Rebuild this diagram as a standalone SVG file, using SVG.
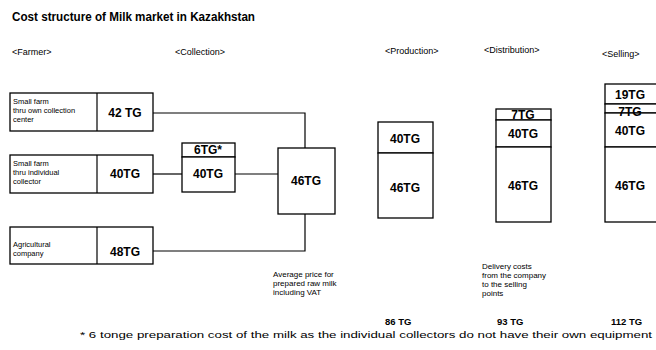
<svg xmlns="http://www.w3.org/2000/svg" width="656" height="350" viewBox="0 0 656 350">
  <style>
    .box { fill: #fff; stroke: #000; stroke-width: 1.3; }
    .wire { fill: none; stroke: #000; stroke-width: 1.2; }
    .val { font-family: "Liberation Sans", Arial, sans-serif; font-size: 12px; font-weight: bold; text-anchor: middle; fill: #000; }
    .sm { font-family: "Liberation Sans", Arial, sans-serif; font-size: 7.5px; fill: #000; }
    .hd { font-family: "Liberation Sans", Arial, sans-serif; font-size: 9px; fill: #000; }
    .note { font-family: "Liberation Sans", Arial, sans-serif; font-size: 8px; fill: #000; }
    .tot { font-family: "Liberation Sans", Arial, sans-serif; font-size: 9.5px; font-weight: bold; fill: #000; }
  </style>
  <rect width="656" height="350" fill="#fff"/>

  <text x="12" y="21" font-family="Liberation Sans, Arial, sans-serif" font-size="12.5" font-weight="bold" textLength="243" lengthAdjust="spacingAndGlyphs">Cost structure of Milk market in Kazakhstan</text>

  <!-- stage headers -->
  <g id="headers">
    <text class="hd" x="12" y="55">&lt;Farmer&gt;</text>
    <text class="hd" x="175" y="55">&lt;Collection&gt;</text>
    <text class="hd" x="385" y="54">&lt;Production&gt;</text>
    <text class="hd" x="484" y="53">&lt;Distribution&gt;</text>
    <text class="hd" x="602" y="57">&lt;Selling&gt;</text>
  </g>

  <!-- connectors -->
  <g id="connectors">
    <polyline class="wire" points="153,113 305,113 305,148"/>
    <line class="wire" x1="153" y1="174" x2="182" y2="174"/>
    <line class="wire" x1="235" y1="174" x2="278" y2="174"/>
    <polyline class="wire" points="153,251 305,251 305,214"/>
  </g>

  <!-- farmer nodes -->
  <g id="farm-own-center">
    <rect class="box" x="10" y="93" width="143" height="38"/>
    <line class="wire" x1="97" y1="93" x2="97" y2="131"/>
    <text class="sm" x="13" y="104">Small farm</text>
    <text class="sm" x="13" y="113">thru own collection</text>
    <text class="sm" x="13" y="122">center</text>
    <text class="val" x="125" y="117">42 TG</text>
  </g>
  <g id="farm-individual">
    <rect class="box" x="10" y="155" width="143" height="38"/>
    <line class="wire" x1="97" y1="155" x2="97" y2="193"/>
    <text class="sm" x="13" y="166">Small farm</text>
    <text class="sm" x="13" y="175">thru individual</text>
    <text class="sm" x="13" y="184">collector</text>
    <text class="val" x="125" y="178">40TG</text>
  </g>
  <g id="agri-company">
    <rect class="box" x="10" y="227" width="143" height="37"/>
    <line class="wire" x1="97" y1="227" x2="97" y2="264"/>
    <text class="sm" x="13" y="247">Agricultural</text>
    <text class="sm" x="13" y="256">company</text>
    <text class="val" x="125" y="256">48TG</text>
  </g>

  <!-- collection nodes -->
  <g id="collector">
    <rect class="box" x="182" y="143" width="53" height="14"/>
    <rect class="box" x="182" y="157" width="53" height="35"/>
    <text class="val" x="208" y="154" font-size="11">6TG*</text>
    <text class="val" x="208" y="178">40TG</text>
  </g>
  <g id="raw-milk">
    <rect class="box" x="278" y="148" width="57" height="66"/>
    <text class="val" x="306" y="185">46TG</text>
    <text class="note" x="273" y="277">Average price for</text>
    <text class="note" x="273" y="286">prepared raw milk</text>
    <text class="note" x="273" y="295">including VAT</text>
  </g>

  <!-- production -->
  <g id="production">
    <rect class="box" x="378" y="122" width="55" height="31"/>
    <rect class="box" x="378" y="153" width="55" height="65"/>
    <text class="val" x="405" y="143">40TG</text>
    <text class="val" x="405" y="192">46TG</text>
    <text class="tot" x="385" y="325">86 TG</text>
  </g>

  <!-- distribution -->
  <g id="distribution">
    <rect class="box" x="496" y="109" width="55" height="11"/>
    <rect class="box" x="496" y="120" width="55" height="27"/>
    <rect class="box" x="496" y="147" width="55" height="75"/>
    <text class="val" x="523" y="119" font-size="11">7TG</text>
    <text class="val" x="523" y="138">40TG</text>
    <text class="val" x="523" y="190">46TG</text>
    <text class="note" x="482" y="269">Delivery costs</text>
    <text class="note" x="482" y="278">from the company</text>
    <text class="note" x="482" y="287">to the selling</text>
    <text class="note" x="482" y="296">points</text>
    <text class="tot" x="497" y="325">93 TG</text>
  </g>

  <!-- selling -->
  <g id="selling">
    <rect class="box" x="605" y="84" width="60" height="20"/>
    <rect class="box" x="605" y="104" width="60" height="9"/>
    <rect class="box" x="605" y="113" width="60" height="34"/>
    <rect class="box" x="605" y="147" width="60" height="75"/>
    <text class="val" x="630" y="99">19TG</text>
    <text class="val" x="630" y="116" font-size="11">7TG</text>
    <text class="val" x="630" y="135">40TG</text>
    <text class="val" x="630" y="190">46TG</text>
    <text class="tot" x="611" y="325">112 TG</text>
  </g>

  <text x="80" y="338" font-family="Liberation Sans, Arial, sans-serif" font-size="9.5" textLength="572" lengthAdjust="spacingAndGlyphs">* 6 tonge preparation cost of the milk as the individual collectors do not have their own equipment</text>
</svg>
